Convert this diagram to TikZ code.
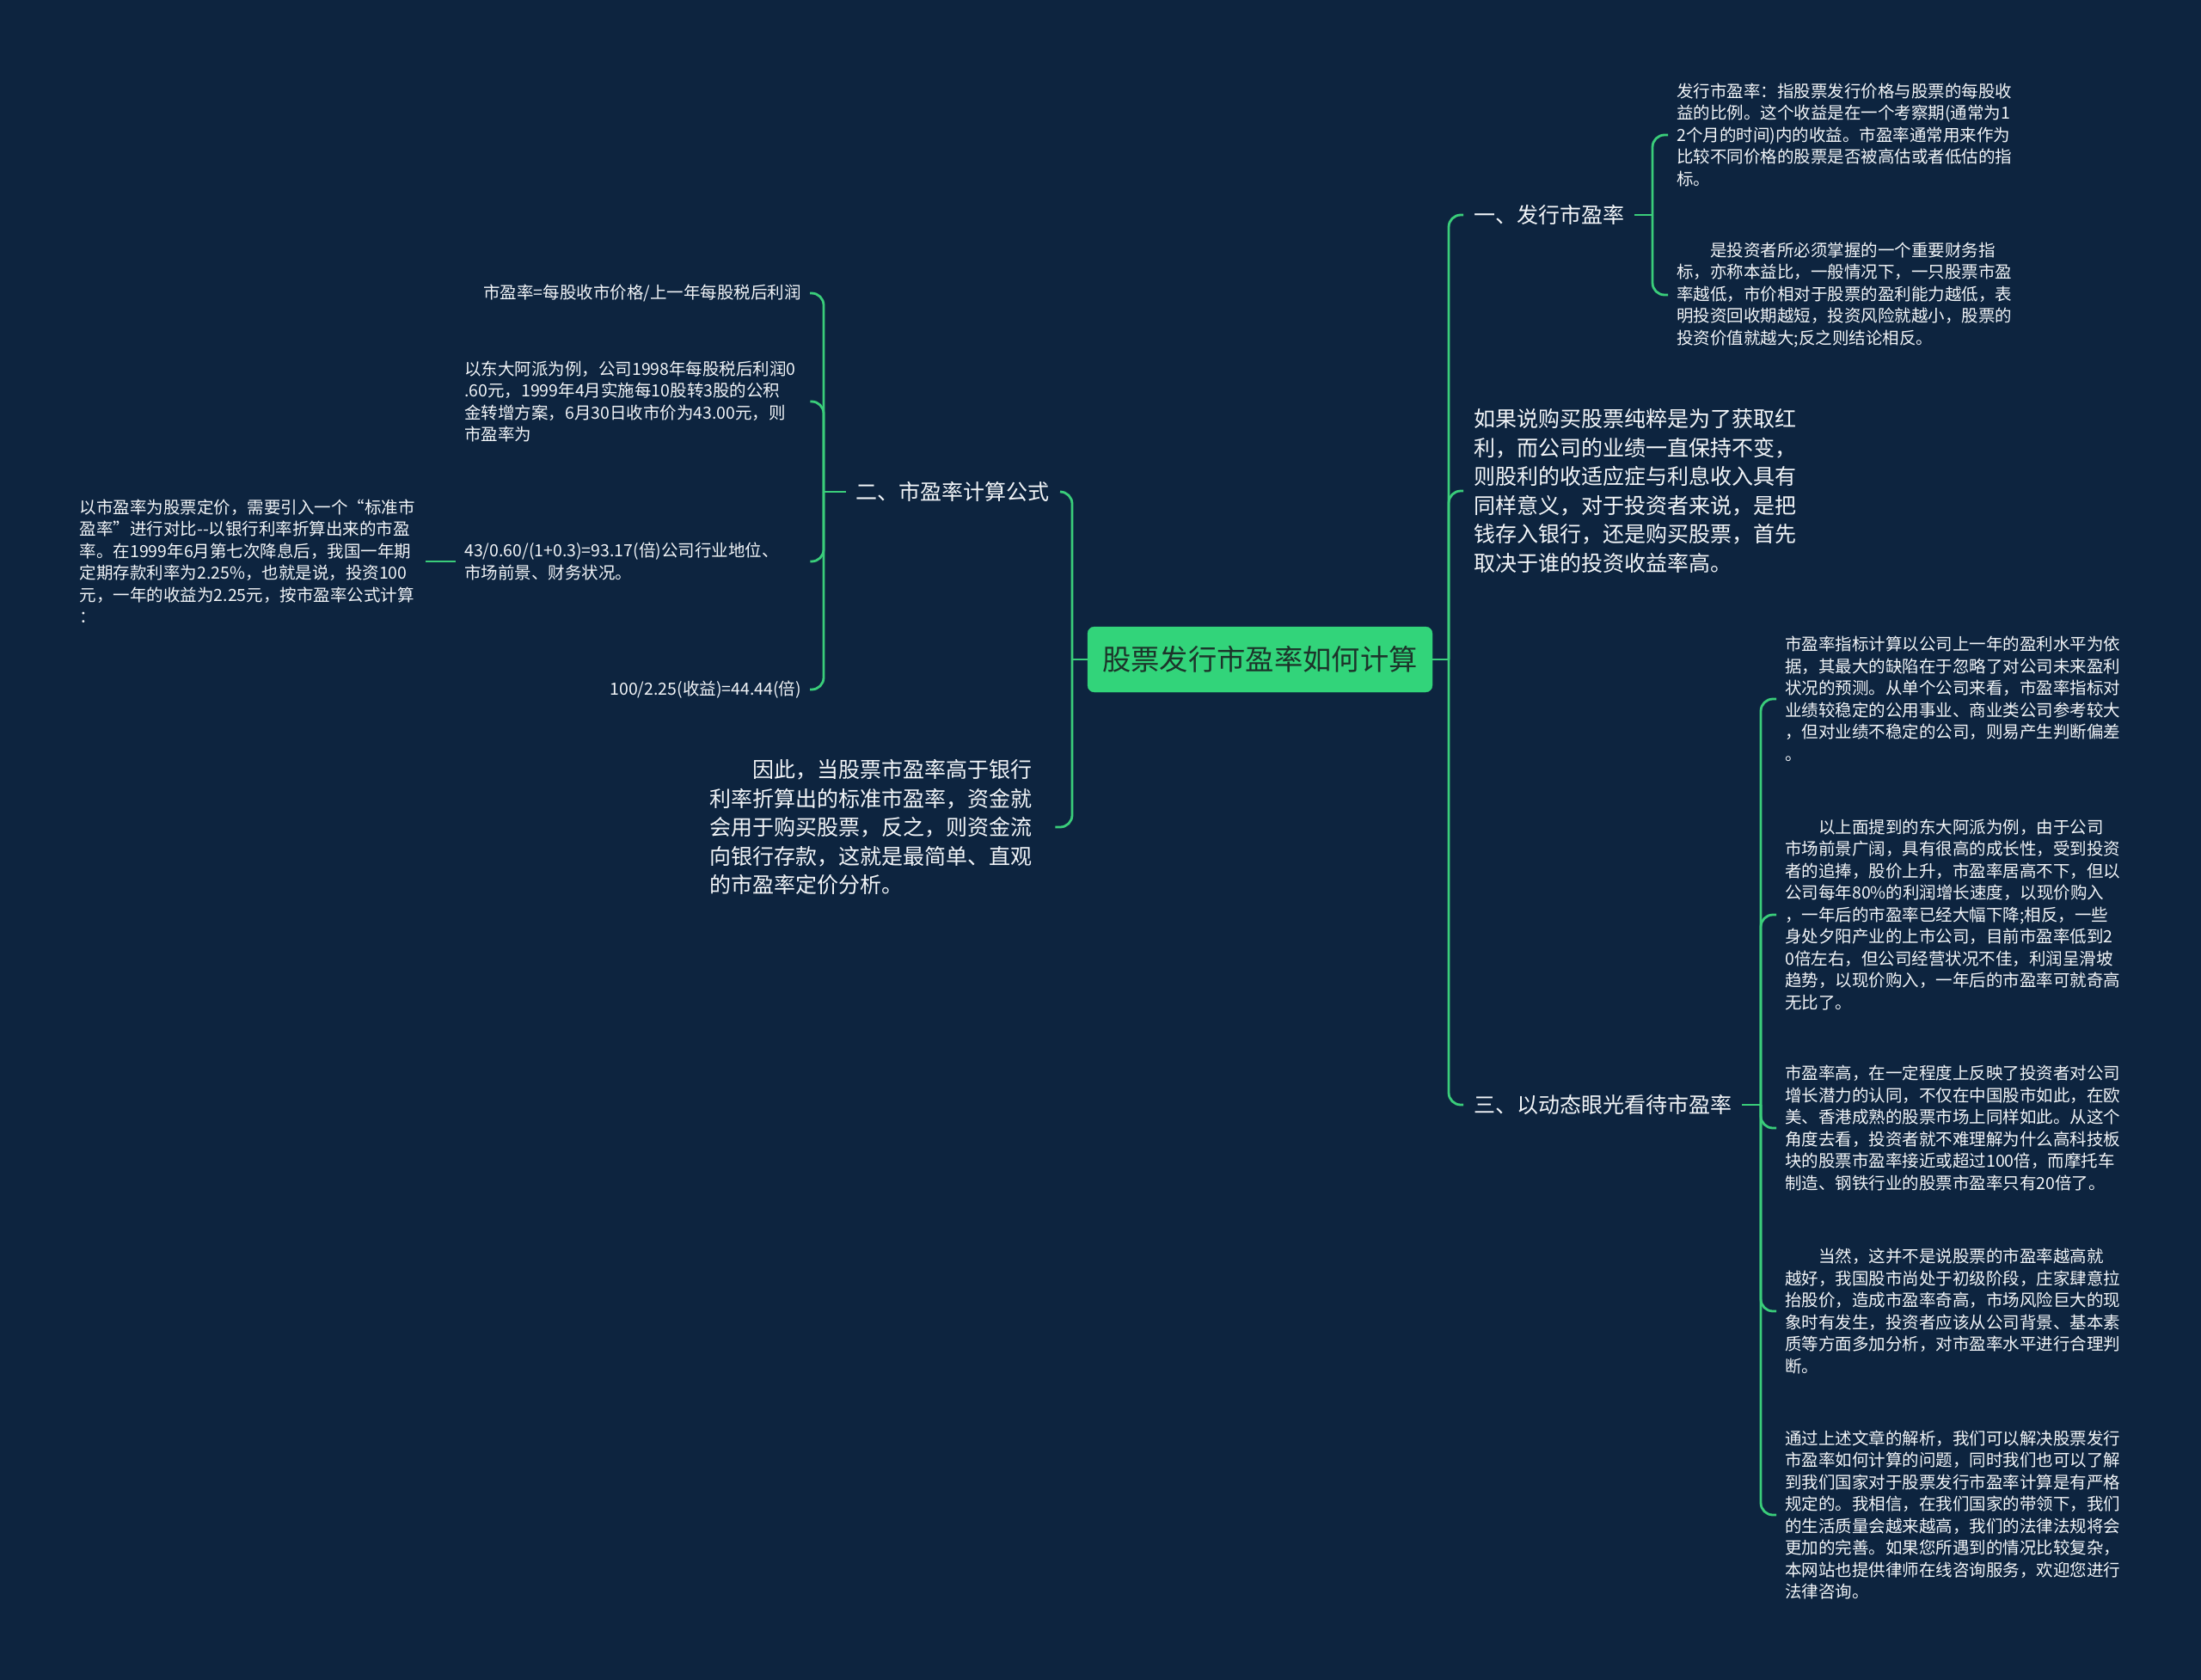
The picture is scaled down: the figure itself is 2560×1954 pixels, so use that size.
\documentclass[tikz,border=0pt]{standalone}
\usepackage{fontspec}
\setmainfont{Noto Sans CJK SC}
\definecolor{bg}{RGB}{13,36,63}
\definecolor{lineg}{RGB}{58,205,122}
\definecolor{rootfill}{RGB}{50,212,122}
\definecolor{roottext}{RGB}{28,52,42}
\definecolor{txt}{RGB}{242,245,248}
\begin{document}
\begin{tikzpicture}[x=1pt,y=-1pt,
  conn/.style={draw=lineg, line width=2.8pt},
  rc/.style={conn, rounded corners=14pt},
  mid/.style={font=\fontsize{25}{33.5}\selectfont, text=txt, inner xsep=12pt, inner ysep=3pt},
  small/.style={font=\fontsize{19.5}{25.5}\selectfont, text=txt, inner xsep=10pt, inner ysep=3pt},
  para/.style={mid, align=left, text width=390pt},
  leaf/.style={small, align=left, text width=392pt},
  rootbox/.style={fill=rootfill, draw=rootfill, rounded corners=8pt, text=roottext,
    font=\fontsize{33.3}{38}\selectfont, minimum width=401pt, minimum height=76pt, inner sep=0pt}
]
\useasboundingbox (0,0) rectangle (2560,1954);
\fill[bg] (0,0) rectangle (2560,1954);

% root
\node[rootbox] (root) at (1465.5,767) {股票发行市盈率如何计算};

% junction coordinates
\coordinate (jr) at (1685,767);
\coordinate (jl) at (1247,767);
\coordinate (j1) at (1922,250);
\coordinate (j3) at (2048,1285);
\coordinate (j2) at (958,572);

% right side level 1
\node[mid, anchor=west] (b1) at (1702,250) {一、发行市盈率};
\node[para, anchor=west] (b2) at (1702,571) {如果说购买股票纯粹是为了获取红\\利，而公司的业绩一直保持不变，\\则股利的收适应症与利息收入具有\\同样意义，对于投资者来说，是把\\钱存入银行，还是购买股票，首先\\取决于谁的投资收益率高。};
\node[mid, anchor=west] (b3) at (1702,1285) {三、以动态眼光看待市盈率};

% leaves of b1
\node[leaf, anchor=west] (a1) at (1940,157) {发行市盈率：指股票发行价格与股票的每股收\\益的比例。这个收益是在一个考察期(通常为1\\2个月的时间)内的收益。市盈率通常用来作为\\比较不同价格的股票是否被高估或者低估的指\\标。};
\node[leaf, anchor=west] (a2) at (1940,343) {\hspace*{2em}是投资者所必须掌握的一个重要财务指\\标，亦称本益比，一般情况下，一只股票市盈\\率越低，市价相对于股票的盈利能力越低，表\\明投资回收期越短，投资风险就越小，股票的\\投资价值就越大;反之则结论相反。};

% leaves of b3
\node[leaf, anchor=west] (c1) at (2066,813) {市盈率指标计算以公司上一年的盈利水平为依\\据，其最大的缺陷在于忽略了对公司未来盈利\\状况的预测。从单个公司来看，市盈率指标对\\业绩较稳定的公用事业、商业类公司参考较大\\，但对业绩不稳定的公司，则易产生判断偏差\\。};
\node[leaf, anchor=west] (c2) at (2066,1064) {\hspace*{2em}以上面提到的东大阿派为例，由于公司\\市场前景广阔，具有很高的成长性，受到投资\\者的追捧，股价上升，市盈率居高不下，但以\\公司每年80\%的利润增长速度，以现价购入\\，一年后的市盈率已经大幅下降;相反，一些\\身处夕阳产业的上市公司，目前市盈率低到2\\0倍左右，但公司经营状况不佳，利润呈滑坡\\趋势，以现价购入，一年后的市盈率可就奇高\\无比了。};
\node[leaf, anchor=west] (c3) at (2066,1312) {市盈率高，在一定程度上反映了投资者对公司\\增长潜力的认同，不仅在中国股市如此，在欧\\美、香港成熟的股票市场上同样如此。从这个\\角度去看，投资者就不难理解为什么高科技板\\块的股票市盈率接近或超过100倍，而摩托车\\制造、钢铁行业的股票市盈率只有20倍了。};
\node[leaf, anchor=west] (c4) at (2066,1525) {\hspace*{2em}当然，这并不是说股票的市盈率越高就\\越好，我国股市尚处于初级阶段，庄家肆意拉\\抬股价，造成市盈率奇高，市场风险巨大的现\\象时有发生，投资者应该从公司背景、基本素\\质等方面多加分析，对市盈率水平进行合理判\\断。};
\node[leaf, anchor=west] (c5) at (2066,1762) {通过上述文章的解析，我们可以解决股票发行\\市盈率如何计算的问题，同时我们也可以了解\\到我们国家对于股票发行市盈率计算是有严格\\规定的。我相信，在我们国家的带领下，我们\\的生活质量会越来越高，我们的法律法规将会\\更加的完善。如果您所遇到的情况比较复杂，\\本网站也提供律师在线咨询服务，欢迎您进行\\法律咨询。};

% left side level 1
\node[mid, anchor=east] (e1) at (1233,572) {二、市盈率计算公式};
\node[para, anchor=west] (e2) at (813,962) {\hspace*{2em}因此，当股票市盈率高于银行\\利率折算出的标准市盈率，资金就\\会用于购买股票，反之，则资金流\\向银行存款，这就是最简单、直观\\的市盈率定价分析。};

% leaves of e1
\node[small, anchor=east] (d1) at (942,341) {市盈率=每股收市价格/上一年每股税后利润};
\node[leaf, anchor=west] (d2) at (530,467) {以东大阿派为例，公司1998年每股税后利润0\\.60元，1999年4月实施每10股转3股的公积\\金转增方案，6月30日收市价为43.00元，则\\市盈率为};
\node[leaf, anchor=west] (d3) at (530,653) {43/0.60/(1+0.3)=93.17(倍)公司行业地位、\\市场前景、财务状况。};
\node[small, anchor=east] (d4) at (942,802) {100/2.25(收益)=44.44(倍)};

% far left leaf
\node[leaf, anchor=east] (f1) at (495,653) {以市盈率为股票定价，需要引入一个“标准市\\盈率”进行对比-{}-以银行利率折算出来的市盈\\率。在1999年6月第七次降息后，我国一年期\\定期存款利率为2.25\%，也就是说，投资100\\元，一年的收益为2.25元，按市盈率公式计算\\：};

% connectors right
\draw[conn] (root.east) -- (jr);
\draw[rc] (jr) |- (b1.west);
\draw[rc] (jr) |- (b2.west);
\draw[rc] (jr) |- (b3.west);
\draw[conn] (b1.east) -- (j1);
\draw[rc] (j1) |- (a1.west);
\draw[rc] (j1) |- (a2.west);
\draw[conn] (b3.east) -- (j3);
\draw[rc] (j3) |- (c1.west);
\draw[rc] (j3) |- (c2.west);
\draw[rc] (j3) |- (c3.west);
\draw[rc] (j3) |- (c4.west);
\draw[rc] (j3) |- (c5.west);

% connectors left
\draw[conn] (root.west) -- (jl);
\draw[rc] (jl) |- (e1.east);
\draw[rc] (jl) |- (e2.east);
\draw[conn] (e1.west) -- (j2);
\draw[rc] (j2) |- (d1.east);
\draw[rc] (j2) |- (d2.east);
\draw[rc] (j2) |- (d3.east);
\draw[rc] (j2) |- (d4.east);
\draw[conn] (d3.west) -- (f1.east);
\end{tikzpicture}
\end{document}
